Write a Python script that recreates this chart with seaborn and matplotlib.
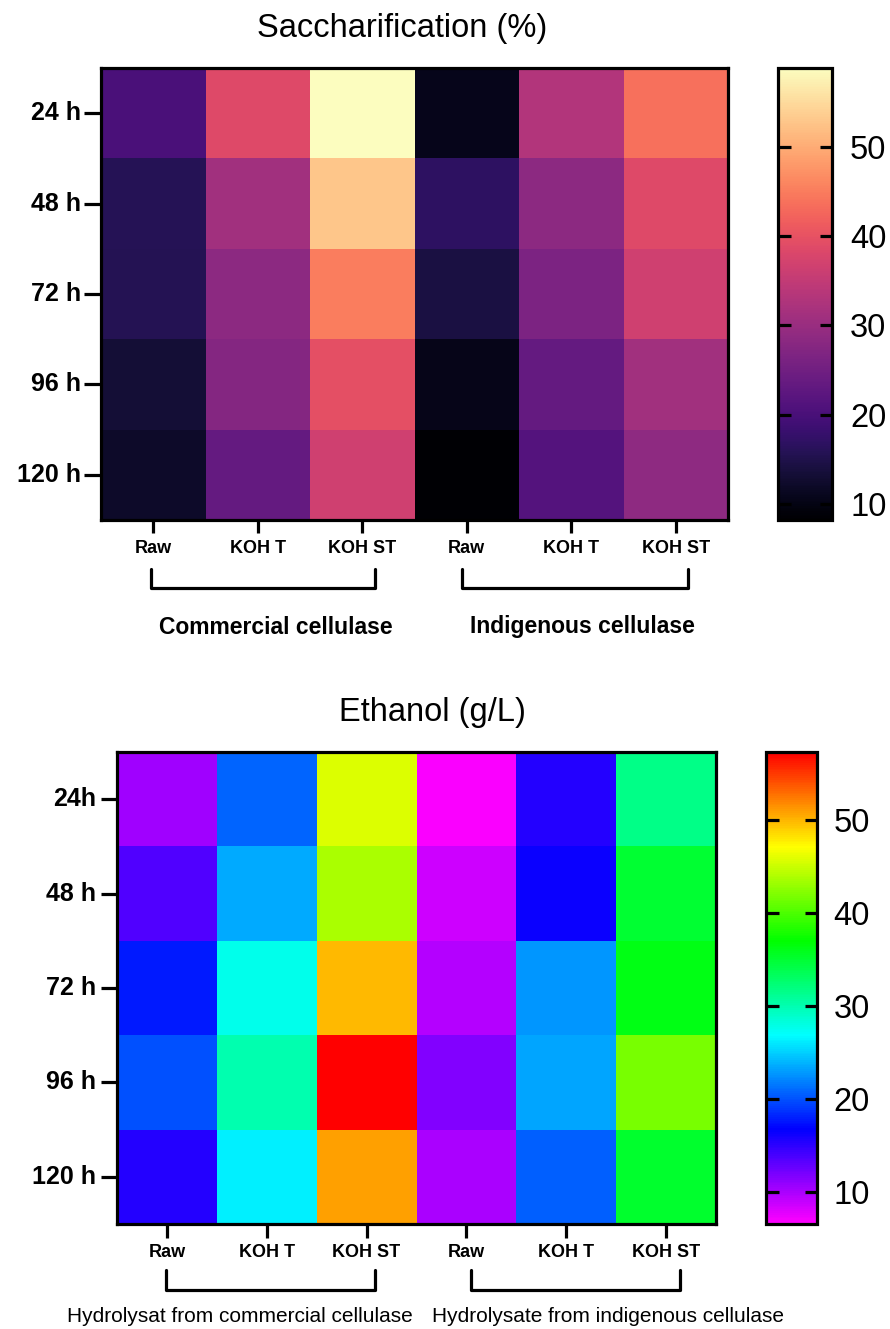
import numpy as np
import pandas as pd
import matplotlib
matplotlib.use("Agg")
import matplotlib.pyplot as plt
import matplotlib.transforms as mtransforms
from matplotlib.colors import LinearSegmentedColormap
import seaborn as sns

plt.rcParams['font.family'] = ['Liberation Sans', 'DejaVu Sans']

# ---------------- data ----------------
times_top = ["24 h", "48 h", "72 h", "96 h", "120 h"]
times_bot = ["24h", "48 h", "72 h", "96 h", "120 h"]
treatments = ["Raw", "KOH T", "KOH ST"]
groups_top = ["Commercial cellulase", "Indigenous cellulase"]
groups_bot = ["Hydrolysat from commercial cellulase", "Hydrolysate from indigenous cellulase"]

# Saccharification (%) : columns = commercial Raw, KOH T, KOH ST, indigenous Raw, KOH T, KOH ST
sacch_24 = [20.1, 38.6, 58.8, 10.7, 33.0, 43.6]
sacch_48 = [15.8, 31.0, 52.7, 16.8, 28.4, 38.6]
sacch_72 = [15.6, 28.4, 45.1, 14.3, 26.4, 36.5]
sacch_96 = [13.3, 27.4, 39.6, 10.5, 23.4, 31.0]
sacch_120 = [12.0, 23.4, 36.5, 8.2, 21.4, 28.6]
sacch_range = [8.2, 58.8]

# Ethanol (g/L)
eth_24 = [10.4, 20.8, 45.8, 6.8, 15.5, 31.6]
eth_48 = [13.7, 23.5, 43.8, 8.6, 16.4, 35.0]
eth_72 = [17.7, 27.6, 49.9, 9.7, 22.8, 36.3]
eth_96 = [19.9, 30.0, 57.3, 11.7, 23.3, 41.7]
eth_120 = [15.5, 26.3, 50.8, 10.0, 20.5, 35.3]
eth_range = [6.6, 57.3]

cbar_ticks = [10, 20, 30, 40, 50]
rainbow_colors = ['#FF00FF', '#0000FF', '#00FFFF', '#00FF00', '#FFFF00', '#FF0000']

sacch = np.array([sacch_24, sacch_48, sacch_72, sacch_96, sacch_120])
eth = np.array([eth_24, eth_48, eth_72, eth_96, eth_120])
xlabels = treatments * 2

W, H = 890, 1329
fig = plt.figure(figsize=(W / 100, H / 100), dpi=100)


def fr(x0, y0, x1, y1):
    return [x0 / W, 1 - y1 / H, (x1 - x0) / W, (y1 - y0) / H]


ax1 = fig.add_axes(fr(101, 68, 728, 520))
cax1 = fig.add_axes(fr(778, 68, 832, 520))
ax2 = fig.add_axes(fr(117, 752, 716, 1224))
cax2 = fig.add_axes(fr(766, 752, 817, 1224))

rainbow = LinearSegmentedColormap.from_list("prism_rainbow", rainbow_colors)

sns.heatmap(sacch, ax=ax1, cbar_ax=cax1, cmap="magma",
            vmin=sacch_range[0], vmax=sacch_range[1],
            xticklabels=xlabels, yticklabels=times_top)
sns.heatmap(eth, ax=ax2, cbar_ax=cax2, cmap=rainbow,
            vmin=eth_range[0], vmax=eth_range[1],
            xticklabels=xlabels, yticklabels=times_bot)

LW = 2.3

for ax, cax, xlen, ylen, xpad, ypad, xsize, cpad in [
        (ax1, cax1, 9.5, 12, 4.7, 2.2, 13, 13),
        (ax2, cax2, 10, 11.5, 4.5, 3.5, 13, 12)]:
    for sp in ax.spines.values():
        sp.set_visible(True)
        sp.set_linewidth(LW)
        sp.set_color('black')
    ax.tick_params(axis='x', bottom=True, length=xlen, width=LW, pad=xpad, direction='out')
    ax.tick_params(axis='y', left=True, length=ylen, width=LW, pad=ypad, direction='out')
    for t in ax.get_xticklabels():
        t.set_fontweight('bold')
        t.set_fontsize(xsize)
        t.set_rotation(0)
    for t in ax.get_yticklabels():
        t.set_fontweight('bold')
        t.set_fontsize(18)
        t.set_rotation(0)
        t.set_va('center')
    cb = ax.collections[0].colorbar
    cb.outline.set_visible(True)
    cb.outline.set_linewidth(LW)
    cb.outline.set_edgecolor('black')
    cb.set_ticks(cbar_ticks)
    cax.minorticks_off()
    cax.yaxis.set_ticks_position('both')
    cax.tick_params(axis='y', which='major', direction='in', left=True, right=True,
                    labelleft=False, labelright=True,
                    length=9, width=LW, labelsize=23.5, pad=cpad)

# titles
fig.text(402 / W, 1 - 28 / H, "Saccharification (%)", ha='center', va='center', fontsize=23.5)
fig.text(432 / W, 1 - 712 / H, "Ethanol (g/L)", ha='center', va='center', fontsize=23.5)


def bracket(ax, x0, x1, ytop, ybot):
    tr = mtransforms.blended_transform_factory(ax.transData, fig.transFigure)
    ax.plot([x0, x0, x1, x1], [1 - ytop / H, 1 - ybot / H, 1 - ybot / H, 1 - ytop / H],
            color='black', lw=LW, transform=tr, clip_on=False,
            solid_joinstyle='round', solid_capstyle='round')


bracket(ax1, 0.48, 2.62, 569, 588)
bracket(ax1, 3.45, 5.62, 569, 588)
bracket(ax2, 0.49, 2.58, 1270, 1290)
bracket(ax2, 3.55, 5.64, 1270, 1290)

fig.text(276 / W, 1 - 627 / H, groups_top[0], ha='center', va='center',
         fontsize=16.5, fontweight='bold')
fig.text(582 / W, 1 - 627 / H, groups_top[1], ha='center', va='center',
         fontsize=16.5, fontweight='bold')
fig.text(240 / W, 1 - 1316 / H, groups_bot[0], ha='center', va='center', fontsize=15)
fig.text(608 / W, 1 - 1316 / H, groups_bot[1], ha='center', va='center', fontsize=15)

fig.savefig("out.png", dpi=100)
